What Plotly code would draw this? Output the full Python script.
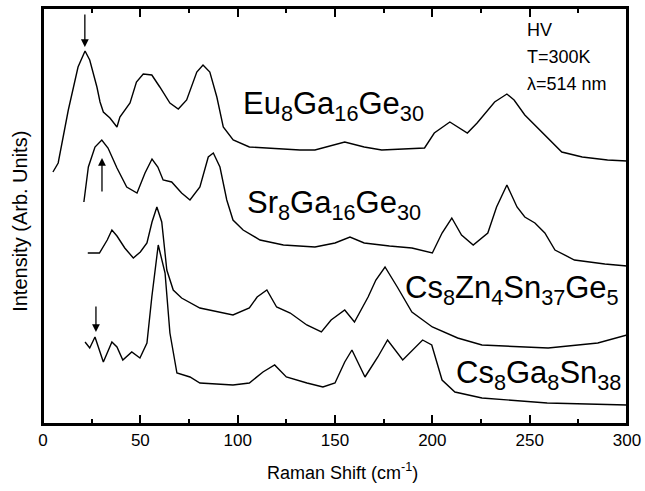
import plotly.graph_objects as go

# Raman shift (cm^-1) and intensity (arb. units, offset curves)
eu_x = [5.1, 7.8, 13, 18, 21.6, 24, 27.7, 29.3, 31, 34.4, 38, 39.5, 44.7, 48, 51.5, 55.9, 60, 65.2, 69.5, 73.8,
        79, 82.2, 85.7, 89.3, 92.6, 97.7, 106, 132, 139.7, 155, 165, 174, 196, 201, 209, 213, 218, 223, 232,
        238.3, 242, 247.5, 256, 266.5, 277, 290, 300]
eu_y = [252, 261, 314, 357, 373, 364, 337, 322, 312, 306, 297, 307, 321, 342, 350, 349, 337, 321, 315, 324,
        352, 359, 352, 327, 297, 284, 277, 274, 274, 282, 277, 274, 276, 291, 302, 297, 291, 301, 322,
        330, 324, 309, 292, 272, 267, 264, 263]

sr_x = [21, 23.3, 26.7, 30.2, 33.4, 38, 43, 48.3, 52.4, 56, 59, 61.7, 66.1, 71.2, 75.5, 80.6, 84.9, 87.5, 90.9,
        94.4, 97.6, 102.8, 111.5, 123.5, 139.7, 150, 157.7, 165, 178, 189.5, 200, 205, 210, 215, 221, 228.5,
        233, 238.3, 243.5, 247.5, 252.7, 257.8, 263, 273, 288.6, 300]
sr_y = [222, 257, 277, 284, 276, 256, 237, 231, 251, 265, 257, 244, 242, 231, 224, 237, 267, 271, 257,
        224, 204, 194, 184, 179, 177, 181, 187, 181, 178, 176, 171, 191, 206, 189, 179, 191,
        217, 239, 217, 207, 201, 191, 174, 164, 160, 158]

cszn_x = [23, 29, 33, 35.4, 38, 42, 46.4, 50, 53.4, 56, 58.5, 61, 63.6, 66.9, 71.2, 80.6, 97.6, 106, 110, 115,
          120, 127, 135.5, 143, 148, 155, 160, 167, 171, 175.7, 182, 189.5, 200, 213, 225.5, 259.5, 285, 300]
cszn_y = [171, 171, 184, 194, 188, 176, 166, 172, 181, 202, 217, 202, 154, 134, 126, 116, 109, 116, 127, 134,
          117, 111, 99, 92, 104, 114, 102, 127, 144, 157, 137, 112, 97, 86, 79, 76, 81, 89]

csga_x = [21.6, 24, 26.7, 31, 35.4, 38, 41, 45.6, 49.8, 53.4, 55.9, 59.2, 62.7, 65.2, 68.8, 75.5, 80.6, 97.6,
          106, 113, 119, 125, 135.6, 143.8, 150, 155, 158.7, 165.4, 172, 177, 184.8, 191, 195, 199.7, 205,
          211.6, 225.5, 259, 300]
csga_y = [82, 76, 87, 62, 82, 77, 64, 72, 66, 81, 127, 179, 151, 91, 51, 47, 41, 39,
          41, 52, 59, 47, 41, 37, 41, 62, 74, 47, 67, 84, 64, 76, 84, 79, 44,
          32, 26, 21, 19]

labels = ["Eu<sub>8</sub>Ga<sub>16</sub>Ge<sub>30</sub>",
          "Sr<sub>8</sub>Ga<sub>16</sub>Ge<sub>30</sub>",
          "Cs<sub>8</sub>Zn<sub>4</sub>Sn<sub>37</sub>Ge<sub>5</sub>",
          "Cs<sub>8</sub>Ga<sub>8</sub>Sn<sub>38</sub>"]
label_pos = [(101.5, 318), (104, 219), (185, 134), (211, 49)]

conditions = ["HV", "T=300K", "λ=514 nm"]
cond_y = [0.946, 0.883, 0.818]

# arrows marking low-frequency modes: (x, head y, tail y)
arrows = [(21.5, 377, 411), (30.3, 266, 231), (27.2, 92, 119)]

xticks = [0, 50, 100, 150, 200, 250, 300]
x_range = [0, 300]

FONT = "Liberation Sans"

fig = go.Figure()
for xs, ys in [(eu_x, eu_y), (sr_x, sr_y), (cszn_x, cszn_y), (csga_x, csga_y)]:
    fig.add_trace(go.Scatter(x=xs, y=ys, mode="lines",
                             line=dict(color="black", width=1.4), showlegend=False))
# invisible helper trace so the top (tick-only) axis is drawn
fig.add_trace(go.Scatter(x=x_range, y=[0, 0], xaxis="x2", mode="markers",
                         marker=dict(opacity=0), showlegend=False, hoverinfo="skip"))

anns = []
for txt, (lx, ly) in zip(labels, label_pos):
    anns.append(dict(x=lx, y=ly, xref="x", yref="y", text=txt, showarrow=False,
                     xanchor="left", yanchor="middle",
                     font=dict(family=FONT, size=31, color="black")))
for ax_, hy, ty in arrows:
    anns.append(dict(x=ax_, y=hy, ax=ax_, ay=ty, xref="x", yref="y", axref="x", ayref="y",
                     text="", showarrow=True, arrowhead=2, arrowsize=1.2, arrowwidth=1.3,
                     arrowcolor="black"))
for txt, cy in zip(conditions, cond_y):
    anns.append(dict(x=0.826, y=cy, xref="paper", yref="paper", xanchor="left", yanchor="middle",
                     showarrow=False, text=txt,
                     font=dict(family=FONT, size=18, color="black")))
anns.append(dict(x=0, y=0.486, xref="paper", yref="paper", xshift=-23, textangle=-90,
                 xanchor="center", yanchor="middle", showarrow=False,
                 text="Intensity (Arb. Units)", font=dict(family=FONT, size=20, color="black")))
anns.append(dict(x=0.512, y=-0.115, xref="paper", yref="paper",
                 xanchor="center", yanchor="middle", showarrow=False,
                 text="Raman Shift (cm<sup>-1</sup>)", font=dict(family=FONT, size=18, color="black")))

tick_common = dict(range=x_range, tickvals=xticks, ticks="inside", ticklen=9, tickwidth=1.5,
                   tickcolor="black", showgrid=False, zeroline=False, automargin=False,
                   minor=dict(dtick=25, tick0=0, ticks="inside", ticklen=5, tickwidth=1.5,
                              tickcolor="black", showgrid=False))

fig.update_layout(
    width=645, height=491,
    margin=dict(l=43, r=18, t=8, b=67),
    paper_bgcolor="white", plot_bgcolor="white",
    font=dict(family=FONT, size=17, color="black"),
    annotations=anns,
    shapes=[dict(type="rect", xref="paper", yref="paper", x0=0, x1=1, y0=0, y1=1,
                 line=dict(color="black", width=2), layer="above")],
    xaxis=dict(**tick_common, showline=True, linewidth=2, linecolor="black",
               ticklabeloverflow="allow", tickfont=dict(family=FONT, size=17)),
    xaxis2=dict(**tick_common, overlaying="x", side="top", showticklabels=False,
                showline=True, linewidth=2, linecolor="black"),
    yaxis=dict(range=[0, 416], showticklabels=False, ticks="", showline=True, linewidth=2,
               linecolor="black", mirror=True, showgrid=False, zeroline=False, automargin=False),
)

# remove the default 8px page margin so the 645x491 figure fills the window exactly
fig.write_html("out.html", config={"displayModeBar": False},
               post_script="document.body.style.margin='0';")
